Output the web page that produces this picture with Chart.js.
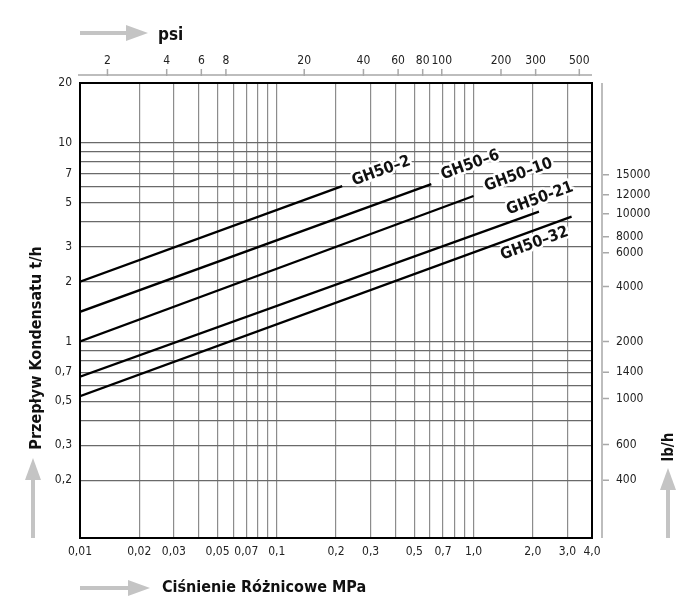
<!DOCTYPE html>
<html>
<head>
<meta charset="utf-8">
<script src="https://cdn.jsdelivr.net/npm/chart.js@4"></script>
<style>
  body { margin: 0; background: #fff; }
  #wrap { width: 700px; height: 616px; }
</style>
</head>
<body>
<div id="wrap"><canvas id="chart"></canvas></div>
<script>
// Curves (start and end points)
const lineNames = ['GH50–2', 'GH50–6', 'GH50–10', 'GH50-21', 'GH50–32'];
const pressureStart = [0.01, 0.01, 0.01, 0.01, 0.01];
const pressureEnd = [0.215, 0.61, 1.0, 2.15, 3.15];
const flowStart = [2.0, 1.41, 1.0, 0.665, 0.53];
const flowEnd = [6.05, 6.2, 5.4, 4.5, 4.25];

// Bottom axis, MPa
const mpaMin = 0.01;
const mpaMax = 4;
const mpaGrid = [0.01, 0.02, 0.03, 0.04, 0.05, 0.06, 0.07, 0.08, 0.09,
  0.1, 0.2, 0.3, 0.4, 0.5, 0.6, 0.7, 0.8, 0.9, 1, 2, 3, 4];
const mpaLabelValues = [0.01, 0.02, 0.03, 0.05, 0.07, 0.1, 0.2, 0.3, 0.5, 0.7, 1, 2, 3, 4];
const mpaLabelText = ['0,01', '0,02', '0,03', '0,05', '0,07', '0,1', '0,2', '0,3', '0,5', '0,7', '1,0', '2,0', '3,0', '4,0'];

// Top axis, psi
const psiPerMpa = 145.04;
const psiTicks = [2, 4, 6, 8, 20, 40, 60, 80, 100, 200, 300, 500];

// Left axis, t/h
const flowMin = 0.1025;
const flowMax = 20;
const flowGrid = [0.2, 0.3, 0.4, 0.5, 0.6, 0.7, 0.8, 0.9, 1, 2, 3, 4, 5, 6, 7, 8, 9, 10, 20];
const flowLabelValues = [0.2, 0.3, 0.5, 0.7, 1, 2, 3, 5, 7, 10, 20];
const flowLabelText = ['0,2', '0,3', '0,5', '0,7', '1', '2', '3', '5', '7', '10', '20'];

// Right axis, lb/h (tick positions in t/h as drawn on the picture)
const lbTickPos = [0.2, 0.303, 0.517, 0.70, 1.0, 1.89, 2.80, 3.37, 4.40, 5.48, 6.91];
const lbTickText = ['400', '600', '1000', '1400', '2000', '4000', '6000', '8000', '10000', '12000', '15000'];

const tickFont = { family: 'DejaVu Sans Condensed', size: 12 };
const titleFamily = 'DejaVu Sans Condensed';

// label offsets from each curve's end point (px)
const labelOffsets = [[39, -15], [39, -19], [45, -21], [1, -13], [-37, 27]];

function setTicks(values) {
  return function(scale) {
    scale.ticks = values.map(v => ({ value: v }));
  };
}

function fixSize(prop, size) {
  return function(scale) { scale[prop] = size; };
}

function drawArrow(ctx, x1, y1, x2, y2) {
  const ang = Math.atan2(y2 - y1, x2 - x1);
  const len = Math.hypot(x2 - x1, y2 - y1);
  ctx.save();
  ctx.translate(x1, y1);
  ctx.rotate(ang);
  ctx.fillStyle = '#c4c4c4';
  ctx.fillRect(0, -2, len - 20, 4);
  ctx.beginPath();
  ctx.moveTo(len, 0);
  ctx.lineTo(len - 22, -8);
  ctx.lineTo(len - 22, 8);
  ctx.closePath();
  ctx.fill();
  ctx.restore();
}

const decor = {
  id: 'decor',
  afterDraw(chart) {
    const { ctx, chartArea: a, scales } = chart;
    ctx.save();

    // top psi axis line and ticks
    ctx.strokeStyle = '#a8a8a8';
    ctx.lineWidth = 1.5;
    ctx.beginPath();
    ctx.moveTo(a.left - 2, 75);
    ctx.lineTo(a.right, 75);
    psiTicks.forEach(v => {
      const x = scales.x2.getPixelForValue(v);
      ctx.moveTo(x, 69);
      ctx.lineTo(x, 76);
    });
    ctx.stroke();

    // right lb/h axis line and ticks
    ctx.beginPath();
    ctx.moveTo(a.right + 10, a.top);
    ctx.lineTo(a.right + 10, a.bottom);
    lbTickPos.forEach(v => {
      const y = scales.y2.getPixelForValue(v);
      ctx.moveTo(a.right + 11, y);
      ctx.lineTo(a.right + 17, y);
    });
    ctx.stroke();

    // plot frame
    ctx.strokeStyle = '#000';
    ctx.lineWidth = 2;
    ctx.strokeRect(a.left, a.top, a.right - a.left, a.bottom - a.top);

    // arrows
    drawArrow(ctx, 80, 33, 148, 33);
    drawArrow(ctx, 80, 588, 150, 588);
    drawArrow(ctx, 33, 538, 33, 458);
    drawArrow(ctx, 668, 538, 668, 468);

    // axis titles
    ctx.fillStyle = '#111';
    ctx.textBaseline = 'middle';
    ctx.textAlign = 'left';
    ctx.font = 'bold 17px ' + titleFamily;
    ctx.fillText('psi', 158, 36);
    ctx.font = 'bold 16px ' + titleFamily;
    ctx.fillText('Ciśnienie Różnicowe MPa', 162, 588);

    ctx.save();
    ctx.translate(37, 348);
    ctx.rotate(-Math.PI / 2);
    ctx.textAlign = 'center';
    ctx.fillText('Przepływ Kondensatu t/h', 0, 0);
    ctx.restore();

    ctx.save();
    ctx.translate(669, 447);
    ctx.rotate(-Math.PI / 2);
    ctx.textAlign = 'center';
    ctx.font = 'bold 15px ' + titleFamily;
    ctx.fillText('lb/h', 0, 0);
    ctx.restore();

    // curve labels
    ctx.font = 'bold 16px ' + titleFamily;
    ctx.textAlign = 'center';
    ctx.lineJoin = 'round';
    lineNames.forEach((name, i) => {
      const ex = scales.x.getPixelForValue(pressureEnd[i]);
      const ey = scales.y.getPixelForValue(flowEnd[i]);
      ctx.save();
      ctx.translate(ex + labelOffsets[i][0], ey + labelOffsets[i][1]);
      ctx.rotate(-20 * Math.PI / 180);
      ctx.strokeStyle = '#fff';
      ctx.lineWidth = 5;
      ctx.strokeText(name, 0, 0);
      ctx.fillStyle = '#111';
      ctx.fillText(name, 0, 0);
      ctx.restore();
    });

    ctx.restore();
  }
};

const datasets = lineNames.map((name, i) => ({
  label: name,
  data: [
    { x: pressureStart[i], y: flowStart[i] },
    { x: pressureEnd[i], y: flowEnd[i] }
  ],
  borderColor: '#000',
  borderWidth: 2.3,
  pointRadius: 0,
  fill: false,
  xAxisID: 'x',
  yAxisID: 'y'
}));

new Chart(document.getElementById('chart'), {
  type: 'line',
  data: { datasets },
  options: {
    responsive: true,
    maintainAspectRatio: false,
    animation: false,
    layout: { padding: 0 },
    plugins: {
      legend: { display: false },
      tooltip: { enabled: false }
    },
    scales: {
      x: {
        type: 'logarithmic',
        position: 'bottom',
        min: mpaMin,
        max: mpaMax,
        afterBuildTicks: setTicks(mpaGrid),
        afterFit: fixSize('height', 78),
        border: { display: false },
        grid: { color: '#8c8c8c', lineWidth: 1.2, drawTicks: false },
        ticks: {
          font: tickFont,
          color: '#222',
          padding: 7,
          maxRotation: 0,
          autoSkip: false,
          callback: function(value) {
            const k = mpaLabelValues.findIndex(v => Math.abs(v - value) < 1e-9);
            return k >= 0 ? mpaLabelText[k] : '';
          }
        }
      },
      x2: {
        type: 'logarithmic',
        position: 'top',
        min: mpaMin * psiPerMpa,
        max: mpaMax * psiPerMpa,
        afterBuildTicks: setTicks(psiTicks),
        afterFit: fixSize('height', 83),
        border: { display: false },
        grid: { display: false },
        ticks: {
          font: tickFont,
          color: '#222',
          padding: 7,
          maxRotation: 0,
          autoSkip: false,
          callback: value => String(value)
        }
      },
      y: {
        type: 'logarithmic',
        position: 'left',
        min: flowMin,
        max: flowMax,
        afterBuildTicks: setTicks(flowGrid),
        afterFit: fixSize('width', 80),
        border: { display: false },
        grid: { color: '#6a6a6a', lineWidth: 1.2, drawTicks: false },
        ticks: {
          font: tickFont,
          color: '#222',
          padding: 8,
          autoSkip: false,
          callback: function(value) {
            const k = flowLabelValues.findIndex(v => Math.abs(v - value) < 1e-9);
            return k >= 0 ? flowLabelText[k] : '';
          }
        }
      },
      y2: {
        type: 'logarithmic',
        position: 'right',
        min: flowMin,
        max: flowMax,
        afterBuildTicks: setTicks(lbTickPos),
        afterFit: fixSize('width', 108),
        border: { display: false },
        grid: { display: false },
        ticks: {
          font: tickFont,
          color: '#222',
          padding: 16,
          autoSkip: false,
          callback: (value, index) => lbTickText[index]
        }
      }
    }
  },
  plugins: [decor]
});
</script>
</body>
</html>
